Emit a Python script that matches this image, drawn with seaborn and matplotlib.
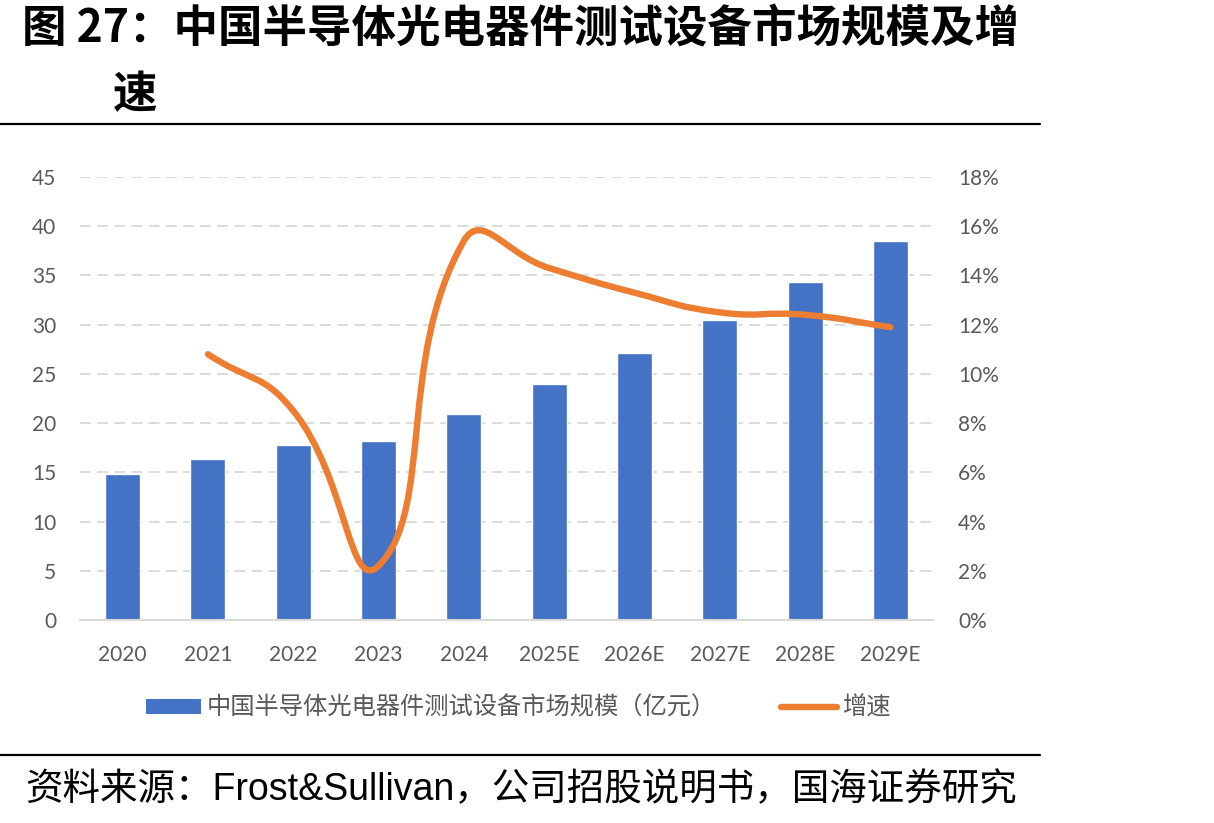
import numpy as np
import matplotlib
matplotlib.use("Agg")
import matplotlib.pyplot as plt
import seaborn as sns
from matplotlib.path import Path
from matplotlib.patches import PathPatch, Patch
from matplotlib.lines import Line2D
from matplotlib.ticker import FuncFormatter

# ---------------- data ----------------
years = ["2020", "2021", "2022", "2023", "2024", "2025E", "2026E", "2027E", "2028E", "2029E"]
market_size = [14.8, 16.4, 17.8, 18.2, 20.9, 24.0, 27.1, 30.5, 34.3, 38.5]   # 亿元
growth_years = ["2021", "2022", "2023", "2024", "2025E", "2026E", "2027E", "2028E", "2029E"]
growth = [10.8, 8.5, 2.2, 15.4, 14.3, 13.3, 12.5, 12.4, 11.9]                # %
left_ticks = [0, 5, 10, 15, 20, 25, 30, 35, 40, 45]
right_ticks = [0, 2, 4, 6, 8, 10, 12, 14, 16, 18]

title_line1 = "图 27：中国半导体光电器件测试设备市场规模及增"
title_line2 = "速"
bar_label = "中国半导体光电器件测试设备市场规模（亿元）"
line_label = "增速"
source = "资料来源：Frost&Sullivan，公司招股说明书，国海证券研究"

BLUE = "#4472C4"
ORANGE = "#ED7D31"
GRID = "#D9D9D9"
TICK = "#595959"

sns.set_theme(style="white")
plt.rcParams["font.family"] = ["Lato", "Noto Sans CJK SC", "DejaVu Sans"]

W, H = 1214, 823
fig = plt.figure(figsize=(W / 100, H / 100), dpi=100)
ax = fig.add_axes([80 / W, (H - 620) / H, 853 / W, 443 / H])

sns.barplot(x=years, y=market_size, color=BLUE, width=0.41, saturation=1,
            ax=ax, zorder=2)
ax.set_xlim(-0.5, len(years) - 0.5)
ax.set_ylim(0, 45)
ax.set_yticks(left_ticks)
ax.set_xlabel("")
ax.set_ylabel("")
ax.set_axisbelow(True)
ax.yaxis.grid(True, linestyle=(0, (6, 3.5)), color=GRID, lw=1.3)
ax.xaxis.grid(False)
for s in ["top", "left", "right"]:
    ax.spines[s].set_visible(False)
ax.spines["bottom"].set_color(GRID)
ax.spines["bottom"].set_linewidth(1.5)
ax.tick_params(axis="x", length=0, pad=18, labelsize=15, labelcolor=TICK)
ax.tick_params(axis="y", length=0, pad=17, labelsize=15, labelcolor=TICK)

ax2 = ax.twinx()
ax2.set_ylim(0, 18)
ax2.set_yticks(right_ticks)
ax2.yaxis.set_major_formatter(FuncFormatter(lambda v, p: f"{v:.0f}%"))
ax2.tick_params(axis="y", length=0, pad=18, labelsize=15, labelcolor=TICK)
ax2.grid(False)
for s in ax2.spines.values():
    s.set_visible(False)

# smoothed line (Excel-like bezier through the data points)
xpos = np.array([years.index(y) for y in growth_years], dtype=float)
gy = np.array(growth, dtype=float)
sx = 853 / len(years)      # px per category
sy = 443 / 18              # px per percent
P = np.column_stack([xpos * sx, gy * sy])
n = len(P)
tension = 0.5
cin, cout = [None] * n, [None] * n
for i in range(n):
    prev = P[i - 1] if i > 0 else P[i]
    nxt = P[i + 1] if i < n - 1 else P[i]
    d = nxt - prev
    l1 = np.hypot(*(P[i] - prev))
    l2 = np.hypot(*(nxt - P[i]))
    tot = l1 + l2 if (l1 + l2) > 0 else 1
    cin[i] = P[i] - d * tension * l1 / tot
    cout[i] = P[i] + d * tension * l2 / tot
verts = [P[0]]
codes = [Path.MOVETO]
for i in range(n - 1):
    verts += [cout[i], cin[i + 1], P[i + 1]]
    codes += [Path.CURVE4] * 3
verts = np.array(verts) / np.array([sx, sy])
ax2.add_patch(PathPatch(Path(verts, codes), fill=False, edgecolor=ORANGE,
                        lw=4.6, capstyle="round", joinstyle="round", zorder=3))

# legend
handles = [Patch(facecolor=BLUE, edgecolor="none"),
           Line2D([], [], color=ORANGE, lw=4.6, solid_capstyle="round")]
leg = fig.legend(handles, [bar_label, line_label], loc="center",
                 bbox_to_anchor=(518 / W, 1 - 708 / H), ncol=2, frameon=False,
                 prop={"family": ["Noto Sans CJK SC"], "size": 17.5},
                 handlelength=2.3, handleheight=0.55, handletextpad=0.2,
                 columnspacing=2.7, borderaxespad=0)
for t in leg.get_texts():
    t.set_color(TICK)

# title, rules and source
fig.text(22 / W, 1 - 30 / H, title_line1, fontsize=32, fontweight="heavy",
         family=["Noto Sans CJK SC"], va="center", ha="left", color="black")
fig.text(113 / W, 1 - 95 / H, title_line2, fontsize=32, fontweight="heavy",
         family=["Noto Sans CJK SC"], va="center", ha="left", color="black")
fig.add_artist(Line2D([0, 1040 / W], [1 - 124 / H] * 2, color="black", lw=1.6))
fig.add_artist(Line2D([0, 1040 / W], [1 - 755 / H] * 2, color="black", lw=1.6))
fig.text(25 / W, 1 - 790 / H, source, fontsize=27,
         family=["Liberation Sans", "Noto Sans CJK SC"], va="center", ha="left",
         color="black")

fig.savefig("out.png", dpi=100)
